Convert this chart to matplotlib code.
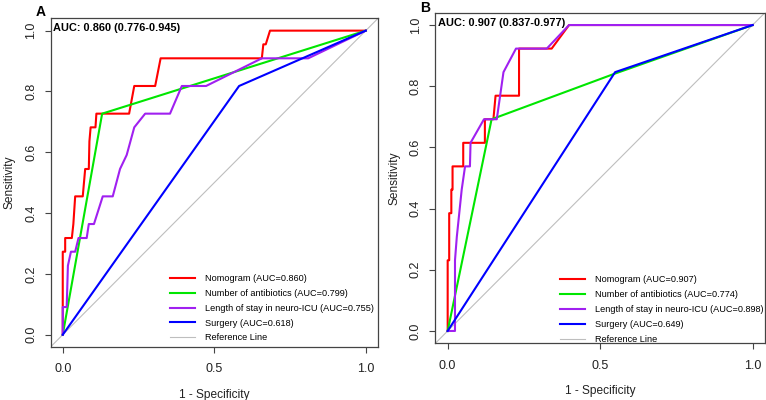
import matplotlib
matplotlib.use('Agg')
import matplotlib.pyplot as plt

plt.rcParams['font.family'] = ['Liberation Sans', 'DejaVu Sans']

# Panel A: 1 - specificity (x) and sensitivity (y) for each ROC curve
a_nomo_x = [0, 0, 0.008, 0.008, 0.03, 0.035, 0.041, 0.066, 0.070, 0.074, 0.086, 0.088,
            0.092, 0.108, 0.111, 0.219, 0.236, 0.305, 0.323, 0.657, 0.662, 0.670, 0.684, 1.0]
a_nomo_y = [0, 0.273, 0.273, 0.318, 0.318, 0.364, 0.455, 0.455, 0.5, 0.545, 0.545, 0.636,
            0.682, 0.682, 0.727, 0.727, 0.818, 0.818, 0.909, 0.909, 0.955, 0.955, 1.0, 1.0]
a_anti_x = [0, 0.13, 1.0]
a_anti_y = [0, 0.727, 1.0]
a_los_x = [0, 0, 0.013, 0.017, 0.027, 0.041, 0.052, 0.079, 0.086, 0.103, 0.132, 0.165,
           0.189, 0.211, 0.236, 0.272, 0.354, 0.393, 0.473, 0.657, 0.81, 1.0]
a_los_y = [0, 0.091, 0.091, 0.227, 0.273, 0.273, 0.318, 0.318, 0.364, 0.364, 0.455, 0.455,
           0.545, 0.591, 0.682, 0.727, 0.727, 0.818, 0.818, 0.909, 0.909, 1.0]
a_surg_x = [0, 0.582, 1.0]
a_surg_y = [0, 0.818, 1.0]
a_labels = ['Nomogram (AUC=0.860)', 'Number of antibiotics (AUC=0.799)',
            'Length of stay in neuro-ICU (AUC=0.755)', 'Surgery (AUC=0.618)', 'Reference Line']
a_auc_text = 'AUC: 0.860 (0.776-0.945)'

# Panel B
b_nomo_x = [0, 0, 0.005, 0.005, 0.012, 0.012, 0.016, 0.016, 0.051, 0.051, 0.122, 0.122,
            0.150, 0.157, 0.234, 0.234, 0.341, 0.398, 1.0]
b_nomo_y = [0, 0.231, 0.231, 0.385, 0.385, 0.462, 0.462, 0.538, 0.538, 0.615, 0.615, 0.692,
            0.692, 0.769, 0.769, 0.923, 0.923, 1.0, 1.0]
b_anti_x = [0, 0.144, 0.545, 1.0]
b_anti_y = [0, 0.692, 0.840, 1.0]
b_los_x = [0, 0.024, 0.024, 0.030, 0.046, 0.057, 0.073, 0.075, 0.119, 0.161, 0.172, 0.183,
           0.224, 0.325, 0.398, 1.0]
b_los_y = [0, 0, 0.231, 0.308, 0.462, 0.538, 0.538, 0.615, 0.692, 0.692, 0.769, 0.846,
           0.923, 0.923, 1.0, 1.0]
b_surg_x = [0, 0.549, 1.0]
b_surg_y = [0, 0.846, 1.0]
b_labels = ['Nomogram (AUC=0.907)', 'Number of antibiotics (AUC=0.774)',
            'Length of stay in neuro-ICU (AUC=0.898)', 'Surgery (AUC=0.649)', 'Reference Line']
b_auc_text = 'AUC: 0.907 (0.837-0.977)'

colors = ['#FF0000', '#00E600', '#A020F0', '#0000FF', '#BEBEBE']


def roc_panel(ax, curves, labels, auc_text, leg_anchor):
    ax.axline((0, 0), (1, 1), color=colors[4], lw=0.8, zorder=1)
    handles = []
    for (x, y), c in zip(curves, colors[:4]):
        h, = ax.plot(x, y, color=c, lw=1.5, zorder=2)
        handles.append(h)
    ref, = ax.plot([], [], color=colors[4], lw=0.8)
    handles.append(ref)

    ax.set_xlim(-0.04, 1.04)
    ax.set_ylim(-0.04, 1.04)
    ax.set_xticks([0, 0.5, 1.0])
    ax.set_xticklabels(['0.0', '0.5', '1.0'])
    ax.set_yticks([0, 0.2, 0.4, 0.6, 0.8, 1.0])
    ax.set_yticklabels(['0.0', '0.2', '0.4', '0.6', '0.8', '1.0'], rotation=90, va='center')
    ax.tick_params(length=4.3, width=0.8, color='#444444', labelsize=9,
                   labelcolor='#222222')
    ax.tick_params(axis='x', pad=7.5)
    ax.tick_params(axis='y', pad=5.5)
    for s in ax.spines.values():
        s.set_color('#444444')
        s.set_linewidth(0.9)
    ax.set_xlabel('1 - Specificity', fontsize=8.6, color='#222222', labelpad=10)
    ax.set_ylabel('Sensitivity', fontsize=8.6, color='#222222', labelpad=7)

    ax.text(0.008, 0.985, auc_text, transform=ax.transAxes, fontsize=7.9,
            fontweight='bold', va='top', ha='left')

    ax.legend(handles, labels, loc='upper left', bbox_to_anchor=leg_anchor,
              frameon=False, fontsize=6.6, handlelength=2.7, handletextpad=1.1,
              labelspacing=0.64, borderpad=0, borderaxespad=0)


fig = plt.figure(figsize=(7.66, 4.0), dpi=100)
ax_a = fig.add_axes([0.0661, 0.1328, 0.4272, 0.821])
ax_b = fig.add_axes([0.5685, 0.142, 0.430, 0.826])

roc_panel(ax_a, [(a_nomo_x, a_nomo_y), (a_anti_x, a_anti_y), (a_los_x, a_los_y),
                 (a_surg_x, a_surg_y)], a_labels, a_auc_text, (0.365, 0.222))
roc_panel(ax_b, [(b_nomo_x, b_nomo_y), (b_anti_x, b_anti_y), (b_los_x, b_los_y),
                 (b_surg_x, b_surg_y)], b_labels, b_auc_text, (0.378, 0.205))

# panel letters
fig.text(41 / 766, 1 - 12.5 / 400, 'A', fontsize=10, fontweight='bold', ha='center', va='center')
fig.text(425.5 / 766, 1 - 7.5 / 400, 'B', fontsize=10, fontweight='bold', ha='center', va='center')

fig.savefig('out.png', dpi=100)
